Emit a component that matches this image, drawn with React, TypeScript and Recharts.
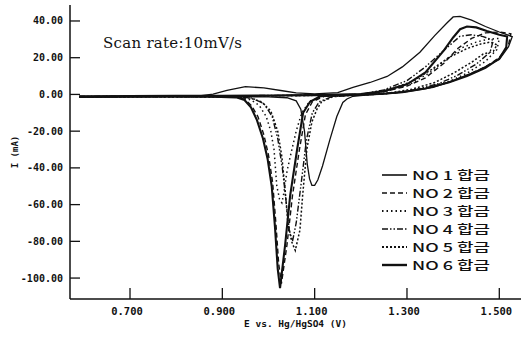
import React from "react";
import { LineChart, Line, XAxis, YAxis, Label } from "recharts";

type Pt = [number, number];

const X_TICKS = [0.7, 0.9, 1.1, 1.3, 1.5];
const Y_TICKS = [40, 20, 0, -20, -40, -60, -80, -100];
const X_DOMAIN = [0.57, 1.547];
const Y_DOMAIN = [-111.4, 48.7];

// [E (V), I (mA)], forward sweep then reverse sweep
const NO1: Pt[] = [
  [0.59, -1.6], [0.65, -1.3], [0.75, -1.1], [0.85, -0.8], [0.88, 0.2], [0.91, 2.2],
  [0.95, 4.2], [0.99, 3.6], [1.03, 2.0], [1.06, 0.8], [1.1, 0.3], [1.15, 1.0],
  [1.183, 3.8], [1.22, 6.5], [1.257, 9.8], [1.29, 15], [1.328, 23], [1.36, 32],
  [1.387, 39], [1.4, 42.2], [1.415, 42.5], [1.44, 40.5], [1.47, 37], [1.5, 34],
  [1.528, 31.5],
  [1.52, 26], [1.5, 19], [1.45, 12.6], [1.4, 7.5], [1.357, 3.8], [1.3, 1.5],
  [1.25, 0.3], [1.21, -0.3], [1.183, -1], [1.17, -2.5], [1.161, -4.4], [1.148, -12],
  [1.133, -24.6], [1.117, -39], [1.107, -46.5], [1.1, -49.5], [1.094, -49.5],
  [1.089, -46], [1.084, -38], [1.078, -20], [1.07, -8], [1.06, -3.5], [1.04, -1.8],
  [1.0, -1.3], [0.9, -1.2], [0.75, -1.3], [0.59, -1.6],
];

const NO2: Pt[] = [
  [0.59, -1.2], [0.7, -1.1], [0.8, -1.0], [0.9, -0.8], [1.0, -0.7], [1.1, -0.5],
  [1.2, 0], [1.25, 1.5], [1.3, 4.5], [1.34, 9], [1.38, 17], [1.41, 25],
  [1.44, 30.5], [1.47, 33.5], [1.5, 34], [1.525, 33],
  [1.52, 27], [1.5, 20], [1.47, 15], [1.43, 10.5], [1.39, 6.5], [1.34, 3.5],
  [1.29, 1.3], [1.24, 0.2], [1.18, -0.4], [1.12, -1], [1.095, -4], [1.08, -11],
  [1.067, -30], [1.052, -55], [1.04, -82], [1.028, -103], [1.022, -92],
  [1.016, -70], [1.009, -48], [1.0, -33], [0.99, -22], [0.977, -12], [0.963, -6],
  [0.948, -2.5], [0.93, -1.5], [0.85, -1.2], [0.7, -1.2], [0.59, -1.3],
];

const NO3: Pt[] = [
  [0.59, -1.3], [0.7, -1.1], [0.8, -1.0], [0.9, -0.8], [1.0, -0.7], [1.1, -0.4],
  [1.2, 0], [1.26, 2], [1.31, 6], [1.35, 12], [1.39, 20], [1.42, 25.5],
  [1.45, 28.5], [1.475, 30], [1.5, 30.5],
  [1.495, 24.5], [1.47, 18], [1.43, 11.5], [1.39, 7], [1.34, 3.5], [1.29, 1.2],
  [1.24, 0.1], [1.18, -0.4], [1.12, -1], [1.09, -3.5], [1.072, -10], [1.06, -20],
  [1.047, -34], [1.04, -42], [1.033, -54], [1.029, -59], [1.024, -57],
  [1.018, -50], [1.015, -40], [1.012, -30], [1.005, -20], [0.995, -12],
  [0.98, -6], [0.962, -3], [0.94, -1.6], [0.88, -1.2], [0.59, -1.2],
];

const NO4: Pt[] = [
  [0.59, -1.0], [0.7, -0.9], [0.8, -0.8], [0.9, -0.7], [1.0, -0.6], [1.1, -0.4],
  [1.2, 0], [1.25, 2.5], [1.3, 7.5], [1.34, 15], [1.38, 24], [1.415, 31.7],
  [1.44, 32.5], [1.465, 31.5], [1.487, 29.5],
  [1.48, 23], [1.45, 16.5], [1.41, 10.5], [1.37, 6], [1.32, 2.6], [1.27, 0.7],
  [1.21, -0.2], [1.14, -1], [1.11, -4], [1.095, -10], [1.082, -25], [1.07, -50],
  [1.06, -70], [1.052, -80], [1.045, -74], [1.038, -58], [1.03, -40],
  [1.02, -24], [1.008, -12], [0.99, -5], [0.965, -2], [0.93, -1.3], [0.8, -1.1],
  [0.59, -1.1],
];

const NO5: Pt[] = [
  [0.59, -1.4], [0.7, -1.2], [0.8, -1.0], [0.9, -0.9], [1.0, -0.7], [1.1, -0.5],
  [1.2, 0], [1.26, 2.5], [1.31, 7], [1.35, 13], [1.39, 20], [1.43, 25],
  [1.46, 27.5], [1.48, 28.5], [1.495, 27],
  [1.487, 23.5], [1.465, 22], [1.44, 17.5], [1.4, 11.5], [1.36, 6.5], [1.31, 2.8],
  [1.26, 0.7], [1.2, -0.3], [1.14, -1.2], [1.115, -4], [1.105, -8], [1.094, -15],
  [1.083, -30], [1.074, -55], [1.068, -74], [1.058, -85], [1.05, -80],
  [1.042, -70], [1.036, -52], [1.029, -34], [1.02, -20], [1.005, -9],
  [0.985, -4], [0.96, -2], [0.93, -1.3], [0.8, -1.2], [0.59, -1.3],
];

const NO6: Pt[] = [
  [0.59, -1.0], [0.7, -0.9], [0.8, -0.8], [0.9, -0.7], [1.0, -0.6], [1.1, -0.4],
  [1.2, 0.2], [1.25, 1.8], [1.3, 5.5], [1.34, 12], [1.38, 24], [1.4, 31],
  [1.415, 35.5], [1.43, 37], [1.45, 36.5], [1.473, 34.5], [1.5, 32.5], [1.517, 31.5],
  [1.515, 25.7], [1.5, 19.5], [1.47, 14.5], [1.43, 10], [1.39, 6.5], [1.34, 3.2],
  [1.29, 1.2], [1.24, 0.2], [1.18, -0.3], [1.112, -1], [1.09, -4], [1.075, -10],
  [1.062, -30], [1.047, -55], [1.036, -82], [1.025, -105.5], [1.02, -95],
  [1.014, -72], [1.007, -50], [0.998, -35], [0.988, -24], [0.975, -14],
  [0.962, -7], [0.948, -3], [0.93, -1.6], [0.88, -1.2], [0.75, -1.1], [0.59, -1.1],
];

const SERIES = [
  { name: "NO 1 합금", pts: NO1, dash: undefined, width: 1.3 },
  { name: "NO 2 합금", pts: NO2, dash: "5 3", width: 1.4 },
  { name: "NO 3 합금", pts: NO3, dash: "1.5 3", width: 1.5 },
  { name: "NO 4 합금", pts: NO4, dash: "6 2 1.5 2 1.5 2", width: 1.4 },
  { name: "NO 5 합금", pts: NO5, dash: "2 2", width: 1.5 },
  { name: "NO 6 합금", pts: NO6, dash: undefined, width: 2.1 },
];

const INK = "#111";
const MONO = "'DejaVu Sans Mono', monospace";

const BottomTick = ({ x, y, payload }: any) => (
  <g>
    <line x1={x} y1={y} x2={x} y2={y - 11} stroke={INK} strokeWidth={1.3} />
    <text x={x - 3} y={y + 16} textAnchor="middle" fontFamily={MONO} fontWeight="bold" fontSize={10.5} fill={INK}>
      {Number(payload.value).toFixed(3)}
    </text>
  </g>
);

const TopTick = ({ x, y }: any) => (
  <line x1={x} y1={y} x2={x} y2={y + 11} stroke={INK} strokeWidth={1.3} />
);

const LeftTick = ({ x, y, payload }: any) => (
  <g>
    <line x1={x} y1={y} x2={x + 10} y2={y} stroke={INK} strokeWidth={1.3} />
    <text x={x - 7} y={y + 3.5} textAnchor="end" fontFamily={MONO} fontWeight="bold" fontSize={10} fill={INK}>
      {Number(payload.value).toFixed(2)}
    </text>
  </g>
);

const RightTick = ({ x, y }: any) => (
  <line x1={x} y1={y} x2={x - 10} y2={y} stroke={INK} strokeWidth={1.3} />
);

function LegendBox() {
  return (
    <svg width={140} height={116} style={{ position: "absolute", left: 375, top: 165 }}>
      {SERIES.map((s, k) => {
        const y = 10 + k * 18;
        return (
          <g key={s.name}>
            <line x1={7} x2={32} y1={y} y2={y} stroke={INK} strokeWidth={s.width + 0.3} strokeDasharray={s.dash} />
            <text x={37} y={y + 4.5} fontFamily="'Liberation Sans Narrow', 'Noto Sans CJK KR', sans-serif" fontSize={12} fontWeight={500} textLength={78} lengthAdjust="spacingAndGlyphs" fill={INK}>
              {s.name}
            </text>
          </g>
        );
      })}
    </svg>
  );
}

export default function App() {
  return (
    <div style={{ position: "absolute", left: 0, top: 0, width: 524, height: 342, background: "#fff" }}>
      <LineChart width={524} height={342} margin={{ top: 5, right: 3, bottom: 0, left: 0 }}>
        <XAxis xAxisId="b" dataKey="e" type="number" domain={X_DOMAIN} allowDataOverflow ticks={X_TICKS}
          height={43} tickSize={0} tickMargin={0} tickLine={false} tick={BottomTick}
          axisLine={{ stroke: INK, strokeWidth: 1.5 }}>
          <Label value="E vs. Hg/HgSO4 (V)" position="insideBottom" offset={15}
            style={{ fontFamily: MONO, fontWeight: "bold", fontSize: 9.5, fill: INK }} />
        </XAxis>
        <XAxis xAxisId="t" orientation="top" dataKey="e" type="number" domain={X_DOMAIN} allowDataOverflow
          ticks={X_TICKS} height={0} tickSize={0} tickMargin={0} tickLine={false} tick={TopTick}
          axisLine={{ stroke: INK, strokeWidth: 1.5 }} />
        <YAxis yAxisId="l" type="number" domain={Y_DOMAIN} allowDataOverflow ticks={Y_TICKS}
          width={70} tickSize={0} tickMargin={0} tickLine={false} tick={LeftTick}
          axisLine={{ stroke: INK, strokeWidth: 1.5 }}>
          <Label value="I (mA)" angle={-90} position="insideLeft" offset={15}
            style={{ fontFamily: MONO, fontWeight: "bold", fontSize: 9, fill: INK, textAnchor: "middle" }} />
        </YAxis>
        <YAxis yAxisId="r" orientation="right" type="number" domain={Y_DOMAIN} allowDataOverflow ticks={Y_TICKS}
          width={0} tickSize={0} tickMargin={0} tickLine={false} tick={RightTick}
          axisLine={{ stroke: INK, strokeWidth: 1.5 }} />
        {SERIES.map((s) => (
          <Line key={s.name} xAxisId="b" yAxisId="l" name={s.name}
            data={s.pts.map(([e, i]) => ({ e, i }))} dataKey="i" type="linear"
            stroke={INK} strokeWidth={s.width} strokeDasharray={s.dash}
            dot={false} activeDot={false} isAnimationActive={false} />
        ))}
      </LineChart>
      <svg width={524} height={342} style={{ position: "absolute", left: 0, top: 0, pointerEvents: "none" }}>
        <text x={103} y={48} fontFamily="'DejaVu Serif', serif" fontSize={15} textLength={139} fill={INK}>
          Scan rate:10mV/s
        </text>
      </svg>
      <LegendBox />
    </div>
  );
}
